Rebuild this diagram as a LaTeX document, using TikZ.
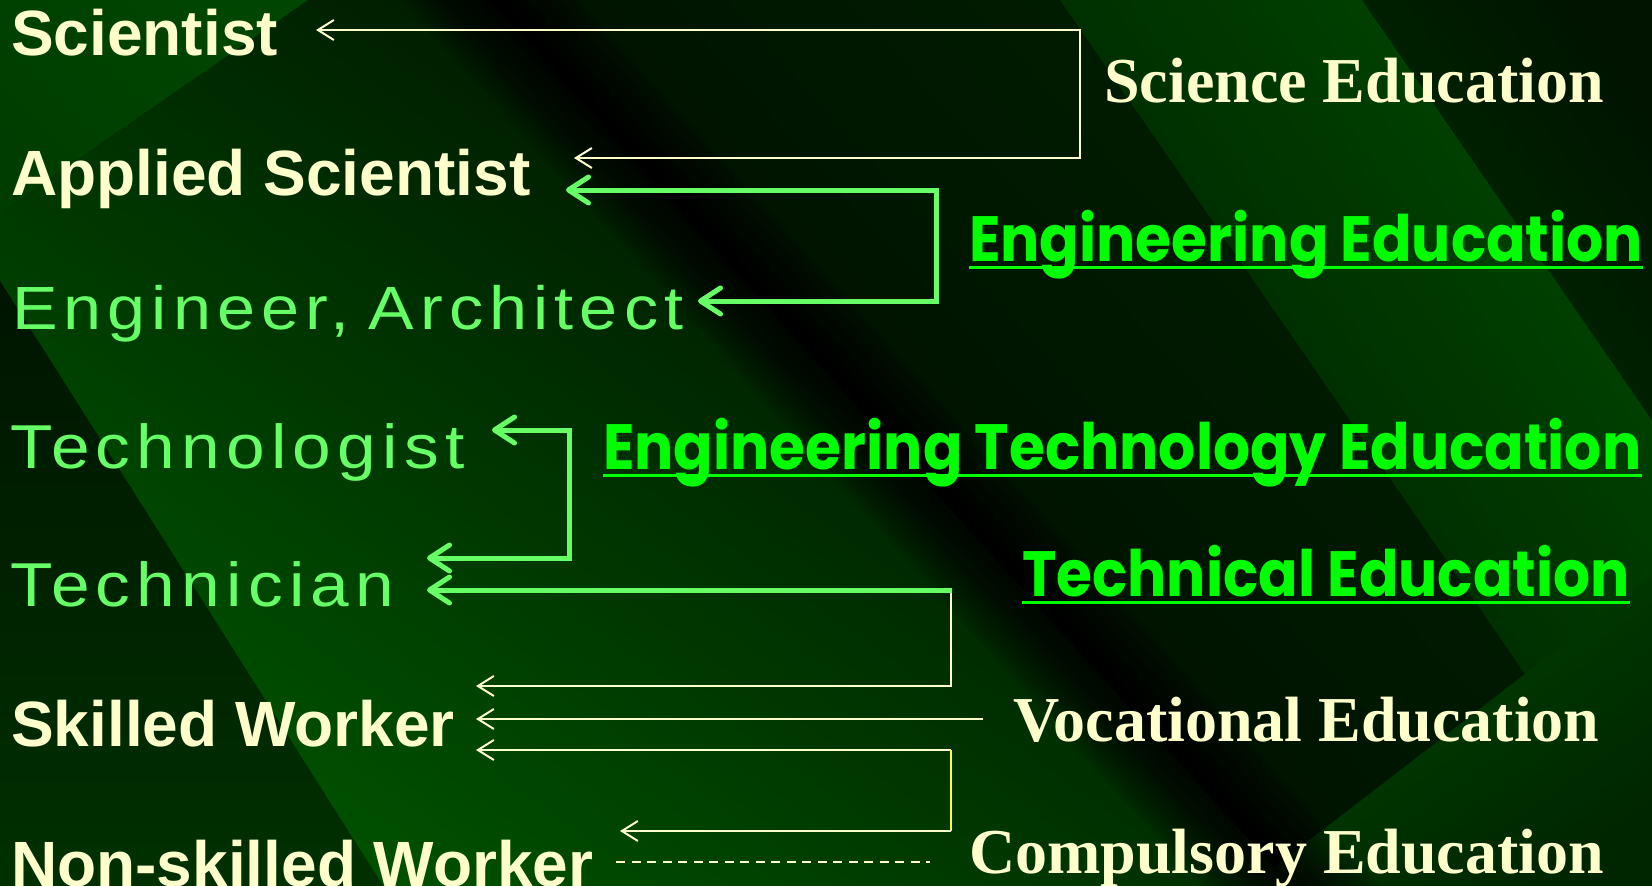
\documentclass[tikz,border=0pt]{standalone}
\usepackage{fontspec}
\setmainfont{Liberation Serif}
\newfontfamily\arialfont{Liberation Sans}
\newfontfamily\widefont{Liberation Sans}[FakeStretch=1.12, LetterSpace=10]
\newfontfamily\comicfont{Poppins}[FakeStretch=0.91]
\usetikzlibrary{arrows.meta}

\definecolor{cream}{HTML}{FFFFCC}
\definecolor{litegreen}{HTML}{66FF66}
\definecolor{brightgreen}{HTML}{00FF00}
\definecolor{lineyellow}{HTML}{FFFF33}
\definecolor{bgbase}{HTML}{001A00}
\definecolor{bgdeep}{HTML}{000A00}
\definecolor{ribbonhi}{HTML}{005200}
\definecolor{facethi}{HTML}{004600}
\definecolor{facetmid}{HTML}{002C00}
\definecolor{facetlo}{HTML}{001400}

\begin{document}
\begin{tikzpicture}[
    x=1pt, y=-1pt,
    role/.style={anchor=base west, inner sep=0, text=cream,
      font=\arialfont\bfseries\fontsize{64}{64}\selectfont},
    trade/.style={anchor=base west, inner sep=0, text=litegreen,
      font=\widefont\fontsize{62}{62}\selectfont},
    edu/.style={anchor=base west, inner sep=0, text=cream,
      font=\bfseries\fontsize{64}{64}\selectfont},
    greenedu/.style={anchor=base west, inner sep=0, text=brightgreen,
      font=\comicfont\bfseries\fontsize{64}{64}\selectfont},
    uline/.style={brightgreen, line width=3pt},
    slimline/.style={cream, line width=2pt},
    boldline/.style={litegreen, line width=5pt},
    slimtip/.style={-{Straight Barb[length=16pt,width=20pt]}},
    slimtips/.style={{Straight Barb[length=16pt,width=20pt]}-{Straight Barb[length=16pt,width=20pt]}},
    boldtip/.style={-{Straight Barb[length=20pt,width=26pt,round]}},
    boldtips/.style={{Straight Barb[length=20pt,width=26pt,round]}-{Straight Barb[length=20pt,width=26pt,round]}}
  ]
  % background facets
  \fill[bgbase] (0,0) rectangle (1652,886);
  \shade[bottom color=ribbonhi, top color=bgdeep, shading angle=-35]
    (0,213) -- (308,0) -- (490,0) -- (1291,886) -- (383,886) -- (0,281) -- cycle;
  \shade[top color=facetlo, bottom color=green!19!black]
    (0,281) -- (383,886) -- (0,886) -- cycle;
  \shade[top color=facethi, bottom color=green!24!black, shading angle=-45]
    (0,0) -- (308,0) -- (0,213) -- cycle;
  \shade[top color=green!13!black, bottom color=bgdeep, shading angle=-48]
    (490,0) -- (1652,0) -- (1652,886) -- (1291,886) -- cycle;
  \shade[top color=facethi, bottom color=green!10!black, shading angle=-55]
    (1060,0) -- (1362,0) -- (1652,420) -- (1652,858) -- cycle;
  \shade[top color=facetlo, bottom color=facetmid, shading angle=-55]
    (1362,0) -- (1652,0) -- (1652,420) -- cycle;
  \shade[top color=green!26!black, bottom color=green!15!black, shading angle=35]
    (1250,886) -- (1652,576) -- (1652,886) -- cycle;
  % dark diagonal band
  \foreach \w in {5,10,...,90}
    \fill[black, opacity=0.07] ({490-\w},0) -- ({490+\w},0) -- ({1291+\w},886) -- ({1291-\w},886) -- cycle;
  \useasboundingbox (0,0) rectangle (1652,886);

  % occupations
  \node[role] (sci) at (11,55) {Scientist};
  \node[role] (asci) at (11,195) {Applied Scientist};
  \node[trade, font=\widefont\fontsize{61}{61}\selectfont] (eng) at (12,329) {Engineer, \kern-6pt Architect};
  \node[trade] (tlog) at (10,468) {Technologist};
  \node[trade] (tech) at (10,606) {Technician};
  \node[role] (skill) at (11,746) {Skilled Worker};
  \node[role] (nonskill) at (11,886) {Non-skilled Worker};

  % kinds of education
  \node[edu] (sciedu) at (1104,102) {Science Education};
  \node[greenedu] (engedu) at (969,261) {Engineering Education};
  \node[greenedu] (etedu) at (603,469) {Engineering Technology Education};
  \node[greenedu] (techedu) at (1022,596) {Technical Education};
  \node[edu] (vocedu) at (1013,741) {Vocational Education};
  \node[edu] (compedu) at (969,873) {Compulsory Education};
  \foreach \n in {engedu, etedu, techedu}
    \draw[uline] ([yshift=-6pt]\n.base west) -- ([yshift=-6pt]\n.base east);

  % arrow ends and corners
  \coordinate (sciTip) at (316,30);
  \coordinate (sciK) at (1080,94);
  \coordinate (asciTip) at (574,158);
  \coordinate (asciTip2) at (566,190);
  \coordinate (engK) at (936,245);
  \coordinate (engTip) at (698,301);
  \coordinate (tlogTip) at (492,430);
  \coordinate (etK) at (569,494);
  \coordinate (techTip) at (427,558);
  \coordinate (techTip2) at (427,590);
  \coordinate (techK) at (951,590);
  \coordinate (skillTip) at (476,686);
  \coordinate (vocEnd) at (983,719);
  \coordinate (skillTip2) at (476,719);
  \coordinate (skillTip3) at (476,750);
  \coordinate (compK) at (951,750);
  \coordinate (compK2) at (951,831);
  \coordinate (nonTip) at (620,831);
  \coordinate (dashL) at (616,862);
  \coordinate (dashR) at (930,862);

  \draw[slimline, slimtips] (sciTip) -| (sciK) |- (asciTip);
  \draw[boldline, boldtips] (asciTip2) -| (engK) |- (engTip);
  \draw[boldline, boldtips] (tlogTip) -| (etK) |- (techTip);
  \draw[slimline, slimtip] (techK) |- (skillTip);
  \draw[boldline, boldtip] ([xshift=1pt]techK) -- (techTip2);
  \draw[slimline, slimtip] (vocEnd) -- (skillTip2);
  \draw[slimline, slimtip] (compK) -- (skillTip3);
  \draw[lineyellow, line width=2pt] (compK) -- (compK2);
  \draw[slimline, slimtip] (compK2) -- (nonTip);
  \draw[cream, line width=1.5pt, dash pattern=on 9pt off 6.5pt] (dashL) -- (dashR);
\end{tikzpicture}
\end{document}
